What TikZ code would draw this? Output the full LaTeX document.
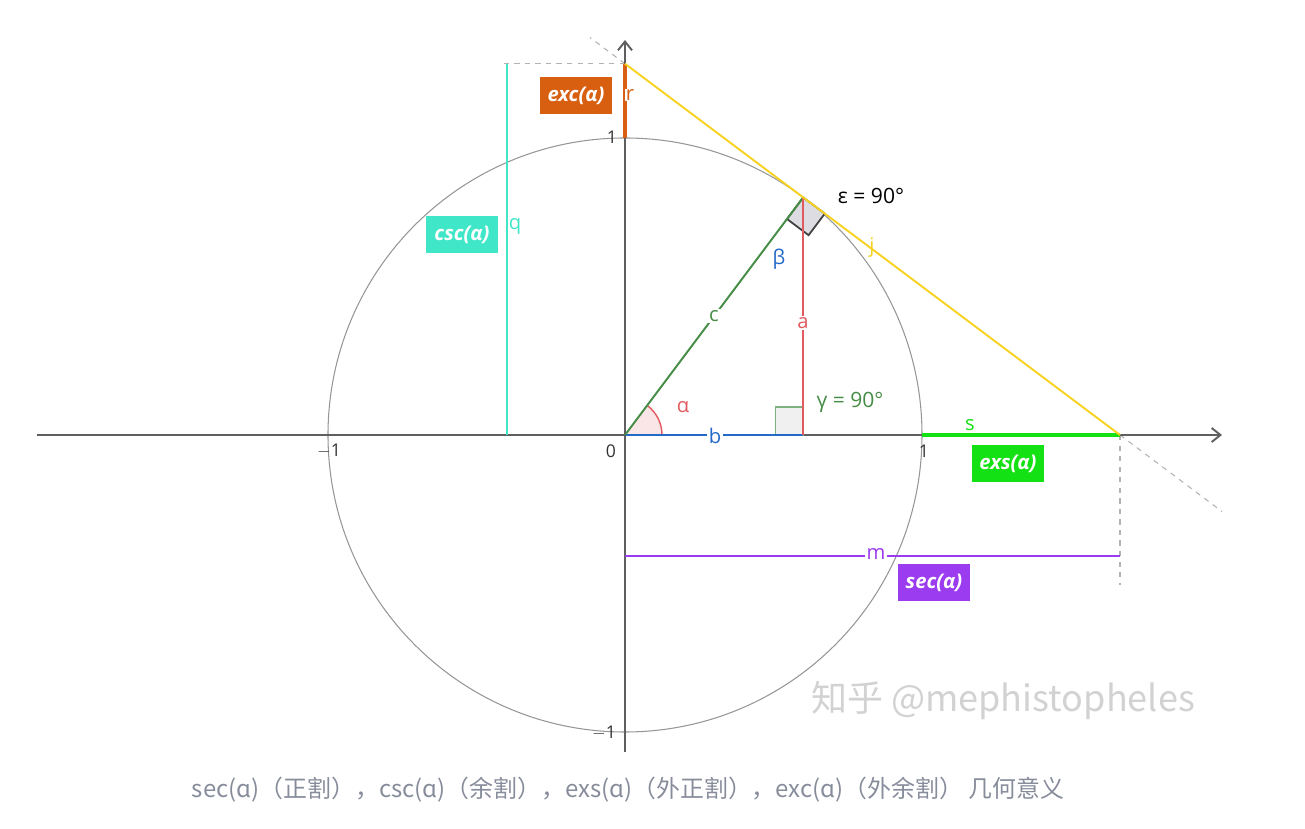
\documentclass[tikz,border=0pt]{standalone}
\usepackage{fontspec}
\setmainfont{Open Sans}
\newfontfamily\cjk{Noto Sans CJK SC}
\usepackage{tikz}
\usetikzlibrary{positioning,arrows.meta,calc}
\definecolor{axisgray}{RGB}{95,95,95}
\definecolor{circgray}{RGB}{150,150,150}
\definecolor{hypgreen}{RGB}{70,140,70}
\definecolor{legred}{RGB}{225,90,95}
\definecolor{legblue}{RGB}{35,105,200}
\definecolor{tanyellow}{RGB}{245,210,35}
\definecolor{excorange}{RGB}{215,95,15}
\definecolor{csccyan}{RGB}{64,230,200}
\definecolor{exsgreen}{RGB}{20,225,20}
\definecolor{secpurple}{RGB}{155,60,240}
\definecolor{capgray}{RGB}{135,140,155}
\tikzset{axis/.style={axisgray,line width=1.1pt,-{Straight Barb[length=5pt,width=8pt]}},
        guide/.style={gray!60,dashed,line width=0.6pt},
        seglabel/.style={inner sep=1pt,font=\fontsize{11.5}{13}\selectfont},
        funcbox/.style={minimum width=1.44cm,minimum height=0.74cm,inner sep=1pt,
        text=white,font=\fontsize{11.5}{13}\selectfont\bfseries\itshape},
        ticklabel/.style={inner sep=0pt,font=\fontsize{10}{12}\selectfont,black!80}}
\def\R{5.94}

\begin{document}
\begin{tikzpicture}
\useasboundingbox (-12.5,-7.88) rectangle (13.6,8.7);
\coordinate (O) at (0,0);
\coordinate (A) at ({0.6*\R},{0.8*\R});
\coordinate (F) at ({0.6*\R},0);
\coordinate (T) at (0,{1.25*\R});
\coordinate (S) at ({5/3*\R},0);
\coordinate (X1) at (\R,0);
\coordinate (Y1) at (0,\R);
% guides
\draw[guide] (T) -- (-0.7,7.95);
\draw[guide] (S) -- (11.94,-1.53);
\draw[guide] (T) -- (-2.5,{1.25*\R});
\draw[guide] (S) -- ({5/3*\R},-3.0);
% circle and axes
\draw[circgray,line width=0.6pt] (O) circle (\R);
\draw[axis] (-11.76,0) -- (11.94,0);
\draw[axis] (0,-6.34) -- (0,7.9);
\node[ticklabel] at (-0.26,5.96) {1};
\node[ticklabel] at (-5.92,-0.32) {$-$1};
\node[ticklabel] at (-0.28,-0.32) {0};
\node[ticklabel] at (5.98,-0.32) {1};
\node[ticklabel] at (-0.42,-5.96) {$-$1};
% angles
\fill[legred!15] (O) -- (0.74,0) arc (0:53.13:0.74) -- cycle;
\draw[legred,line width=0.8pt] (0.74,0) arc (0:53.13:0.74);
\filldraw[fill=gray!12,draw=hypgreen!70,line width=0.8pt] ($(F)+(-0.56,0)$) rectangle ($(F)+(0,0.56)$);
\draw[legblue,line width=0.8pt] ($(A)+(233.13:0.45)$) arc (233.13:270:0.45);
\begin{scope}[shift={(A)},rotate=-36.87]
\filldraw[fill=blue!10!gray!25,draw=black!75,line width=1pt] (0,0) rectangle (0.54,-0.54);
\end{scope}
% segments
\draw[exsgreen,line width=2.4pt] (X1) -- (S);
\draw[excorange,line width=2.8pt] (Y1) -- (T);
\draw[legblue,line width=1.7pt] (O) -- (F);
\draw[hypgreen,line width=1.1pt] (O) -- (A);
\draw[legred,line width=1.1pt] (A) -- (F);
\draw[tanyellow,line width=1.1pt] (T) -- (S);
\coordinate (Q0) at (-2.36,0);
\coordinate (Q1) at (-2.36,{1.25*\R});
\draw[csccyan,line width=1.4pt] (Q0) -- (Q1);
\coordinate (M0) at (0,-2.42);
\coordinate (M1) at ({5/3*\R},-2.42);
\draw[secpurple,line width=1.1pt] (M0) -- (M1);
% segment names
\node[seglabel,fill=white,text=hypgreen] (lc) at (1.78,2.38) {c};
\node[seglabel,fill=white,text=legred] (la) at (3.56,2.24) {a};
\node[seglabel,fill=white,text=legblue] (lb) at (1.8,-0.02) {b};
\node[seglabel,text=exsgreen] (ls) at (6.9,0.2) {s};
\node[seglabel,fill=white,text=secpurple] (lm) at (5.02,-2.38) {m};
\node[seglabel,text=csccyan] (lq) at (-2.2,4.18) {q};
\node[seglabel,text=tanyellow] (lj) at (4.94,3.74) {j};
\node[seglabel,fill=white,text=excorange,inner sep=0.5pt] (lr) at (0.1,6.8) {r};
\node[seglabel,text=legred] (lalpha) at (1.16,0.56) {α};
\node[seglabel,text=legblue] (lbeta) at (3.08,3.52) {β};
\node[seglabel,text=hypgreen,font=\fontsize{12}{14}\selectfont] (lgamma) at (4.5,0.66) {γ = 90°};
\node[seglabel,text=black,font=\fontsize{12}{14}\selectfont] (leps) at (4.92,4.78) {ε = 90°};
% function boxes
\node[funcbox,fill=excorange] (bexc) at (-0.98,6.78) {exc(α)};
\node[funcbox,fill=csccyan] (bcsc) at (-3.26,4.0) {csc(α)};
\node[funcbox,fill=exsgreen] (bexs) at (7.66,-0.58) {exs(α)};
\node[funcbox,fill=secpurple] (bsec) at (6.18,-2.96) {sec(α)};
% watermark and caption
\node[text=gray!35,font=\cjk\fontsize{20.5}{22}\selectfont] (mark) at (7.56,-5.3) {知乎 @mephistopheles};
\node[text=capgray,font=\cjk\fontsize{13.6}{15}\selectfont] (caption) at (0.06,-7.1)
  {sec(ɑ)（正割），csc(ɑ)（余割），exs(ɑ)（外正割），exc(ɑ)（外余割） 几何意义};
\end{tikzpicture}
\end{document}
